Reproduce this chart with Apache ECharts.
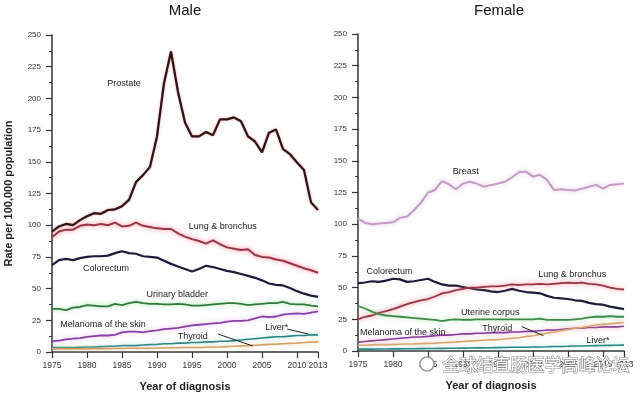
<!DOCTYPE html>
<html><head><meta charset="utf-8">
<script src="https://cdn.jsdelivr.net/npm/echarts@6/dist/echarts.min.js"></script>
<style>html,body{margin:0;padding:0;background:#fff}#c{width:640px;height:394px}</style>
</head><body><div id="c"></div>
<script>
// ---- categories / ticks ----
const years = [1975,1976,1977,1978,1979,1980,1981,1982,1983,1984,
  1985,1986,1987,1988,1989,1990,1991,1992,1993,1994,
  1995,1996,1997,1998,1999,2000,2001,2002,2003,2004,
  2005,2006,2007,2008,2009,2010,2011,2012,2013];
const xTicks = [1975,1980,1985,1990,1995,2000,2005,2010,2013];
const yTicks = [0,25,50,75,100,125,150,175,200,225,250];

// ---- Male ----
const maleProstate = [95,99,101,100,104,107,109.5,109,112,112.5,
  115,120,134,139.5,146,170,212,237,205,181,
  170,170,173.5,171,183.5,183.5,185,182,170,166,
  157.5,173,175.5,160,156,149.5,143.5,118,112];
const maleLung = [90.5,95,96.5,96.5,99.5,100.5,100,101,100,102,
  99,99.5,102,99.5,98.5,97.5,97,97,93.5,91,
  89,87.5,85.5,88,85,82.5,81.5,80.5,81,76.5,
  75,74.5,73,72,70,68,66,64.5,62.5];
const maleColorectum = [68.5,72.5,73.5,72.5,74,75,75.5,75.5,76,78,
  79.5,78,77.5,75.5,75,74.5,72,69.5,67.5,65.5,
  63.5,65.5,68,67,65.5,64,63,61.5,60,58.5,
  56.5,54,53,52.5,50.5,48,46,44.5,43.5];
const maleBladder = [34,34,33,35,35.5,37,36.5,36,36,38,
  37,38.5,39.5,38.5,38,38,37.5,37.5,38,37.5,
  36.5,36.5,37,37.5,38,38.5,38.5,38,37,37.5,
  38,38.5,38.5,39.5,38,37.5,37.5,36.5,36];
const maleMelanoma = [8.5,9,10,10.5,11,12,12.5,13,13,13.5,
  15.5,16,16,15.5,16.5,17,18,18.5,19,20,
  21,21.5,22,22.5,23,24,24.5,24.5,25,26.5,
  28,27.5,28,29.5,30,30.5,30,31,32];
const maleLiver = [3.5,3.5,3.5,3.5,3.8,4,4,4.2,4.5,4.5,
  5,5,5,5.5,5.8,6,6.5,6.5,7,7,
  7.5,7.5,8,8,8.5,8.5,9,9.5,10,10.5,
  11,11.5,12,12,12.5,13,13,13.5,13.5];
const maleThyroid = [2.5,2.5,2.5,2.5,2.5,2.5,2.6,2.7,2.7,2.8,
  2.8,2.9,3,3,3,3.2,3.2,3.3,3.4,3.5,
  3.5,3.6,3.8,3.9,4,4.2,4.5,4.8,5,5.3,
  5.6,6,6.2,6.5,6.8,7,7.5,7.8,8];

// ---- Female ----
const femaleBreast = [104.5,101,100,100.5,101,101.5,105,106,111,117,
  125,127,134,131.5,127.5,132,133.5,132,129.5,131,
  132,133.5,137,141,141.5,137.5,139,135,127,127.5,
  127,126.5,128,129.5,131,128,131,131.5,132];
const femaleColorectum = [53.5,54,55,54.5,55.5,57,56.5,54.5,55,56,
  57,54.5,52.5,51.5,51.5,50.5,49.5,48.5,48,47,
  46.5,47.5,49,47.5,46.5,46,45.5,43.5,42,41.5,
  41,40,39.5,38,37,36.5,35,34,33];
const femaleLung = [25,27,28,30,31.5,33,35,37,38.5,40,
  41,43,45.5,46.5,48,49,50,50,50.5,51,
  51,51.5,52.5,52,52.5,52.5,53,52.5,53,53.5,
  54,53.5,54,53,52.5,51.5,50,49,48.5];
const femaleUterine = [35.5,33.5,31,29,28,27.5,27,26.5,26,25.5,
  25,24.5,23.5,24.5,25,24.5,24.5,25,25,25,
  25,25,25,25,25,25,25.5,24.5,24.5,24.5,
  24.5,25,25.5,26.5,27,27,27.5,27,27];
const femaleMelanoma = [7,7.5,8,8.5,9,9.5,10,10.5,11,11,
  11.5,12,12.5,12.5,13,13.5,13.5,14,14,14.5,
  14.5,14.5,15,15,15.5,15.5,16,16.5,16.5,17,
  17.5,18,18,18.5,18.5,19,19,19,19.5];
const femaleThyroid = [4.5,4.5,4.8,5,5,5.2,5.3,5.5,5.6,5.8,
  6,6.2,6.5,6.8,7,7.5,8,8.2,8.5,8.8,
  9,9.5,10,10.5,11.5,12,13,14,15,16,
  17,18,18.5,19.5,20.5,21,21.5,22,22.5];
const femaleLiver = [1.5,1.5,1.5,1.6,1.6,1.7,1.7,1.8,1.8,1.9,
  2,2,2.1,2.2,2.2,2.3,2.4,2.5,2.5,2.6,
  2.7,2.8,2.9,3,3,3.1,3.2,3.3,3.5,3.6,
  3.7,3.9,4,4.1,4.2,4.3,4.4,4.5,4.6];

// ---- annotation labels (data coordinates) ----
const maleLabels = [
  ['Prostate',1985.3,212],['Lung & bronchus',1999.4,98.6],['Colorectum',1982.7,66.2],
  ['Urinary bladder',1992.9,45],['Melanoma of the skin',1982.3,21.3],
  ['Thyroid',1995.1,12.6],['Liver*',2007.1,19.7]];
const femaleLabels = [
  ['Breast',1990.4,141.2],['Colorectum',1979.5,62.5],['Lung & bronchus',2005.6,60.7],
  ['Uterine corpus',1993.9,30],['Melanoma of the skin',1981.4,14.4],
  ['Thyroid',1994.9,17.6],['Liver*',2009.3,8.1]];
const maleLeaders = [[[1998.7,14.2],[2003.7,4.7]],[[2008.6,18.1],[2011.6,14.2]]];
const femaleLeaders = [[[1998.4,19.2],[2001.5,12.1]]];

const pairs = arr => arr.map((v,i)=>[years[i],v]);
const FONT = 'Liberation Sans, Arial, sans-serif';

function mkSeries(name, arr, gi, color, width, glow, blur){
  const ls = {color: color, width: width};
  if (glow){ ls.shadowColor = glow; ls.shadowBlur = blur || 5; }
  return {name: name, type:'line', xAxisIndex: gi, yAxisIndex: gi, data: pairs(arr),
    showSymbol:false, symbol:'none', lineStyle: ls, silent:true, animation:false, z: 3};
}

function xAxisCfg(gi){
  return {type:'value', gridIndex: gi, min:1975, max:2013,
    name:'Year of diagnosis', nameLocation:'middle', nameGap:29,
    nameTextStyle:{fontFamily:FONT, fontWeight:'bold', fontSize:11, color:'#222'},
    axisLine:{show:true, lineStyle:{color:'#333', width:1.5}},
    axisTick:{show:true, inside:false, length:6, customValues:xTicks, lineStyle:{color:'#333', width:1.2}},
    axisLabel:{customValues:xTicks, showMinLabel:true, showMaxLabel:true, hideOverlap:false, margin:9,
      formatter: v => String(Math.round(v)),
      fontFamily:FONT, fontSize:8.5, color:'#333'},
    splitLine:{show:false}};
}
function yAxisCfg(gi, named){
  return {type:'value', gridIndex: gi, min:0, max:250, interval:25,
    name: named ? 'Rate per 100,000 population' : '', nameLocation:'middle', nameGap:38,
    nameTextStyle:{fontFamily:FONT, fontWeight:'bold', fontSize:11, color:'#222'},
    axisLine:{show:true, lineStyle:{color:'#333', width:1.5}},
    axisTick:{show:true, inside:false, length:6, lineStyle:{color:'#333', width:1.2}},
    minorTick:{show:true, splitNumber:2, length:3, lineStyle:{color:'#333', width:1}},
    axisLabel:{margin:11, fontFamily:FONT, fontSize:8, color:'#333'},
    splitLine:{show:false}, minorSplitLine:{show:false}};
}

const chart = echarts.init(document.getElementById('c'), null, {renderer:'canvas'});
const option = {
  backgroundColor:'#ffffff',
  animation:false,
  grid:[{left:52, top:35, width:266, height:317, containLabel:false, outerBoundsMode:'none'},
        {left:358, top:34, width:266, height:317, containLabel:false, outerBoundsMode:'none'}],
  xAxis:[xAxisCfg(0), xAxisCfg(1)],
  yAxis:[yAxisCfg(0,true), yAxisCfg(1,false)],
  series:[
    mkSeries('Prostate', maleProstate, 0, '#2a1516', 2.2, 'rgba(230,30,30,0.5)', 2),
    mkSeries('Lung & bronchus', maleLung, 0, '#9a3446', 2, 'rgba(245,90,110,0.8)', 5),
    mkSeries('Colorectum', maleColorectum, 0, '#1b1b3a', 2.2, null),
    mkSeries('Urinary bladder', maleBladder, 0, '#2f7a3a', 1.8, 'rgba(110,210,110,0.7)', 5),
    mkSeries('Melanoma of the skin', maleMelanoma, 0, '#8a3fa6', 1.8, 'rgba(200,130,230,0.6)', 5),
    mkSeries('Liver*', maleLiver, 0, '#2a8686', 1.6, 'rgba(120,210,210,0.6)', 5),
    mkSeries('Thyroid', maleThyroid, 0, '#d6a064', 1.6, 'rgba(240,200,140,0.6)', 5),
    mkSeries('Breast', femaleBreast, 1, '#c29cc4', 2, 'rgba(220,180,225,0.8)', 5),
    mkSeries('Colorectum', femaleColorectum, 1, '#1b1b3a', 2.2, null),
    mkSeries('Lung & bronchus', femaleLung, 1, '#9a3446', 1.8, 'rgba(245,90,110,0.8)', 5),
    mkSeries('Uterine corpus', femaleUterine, 1, '#3a8a48', 1.8, 'rgba(120,210,120,0.6)', 5),
    mkSeries('Melanoma of the skin', femaleMelanoma, 1, '#8a3c9c', 1.6, 'rgba(220,120,200,0.6)', 5),
    mkSeries('Thyroid', femaleThyroid, 1, '#dca46c', 1.6, 'rgba(245,200,150,0.6)', 5),
    mkSeries('Liver*', femaleLiver, 1, '#2a8686', 1.6, 'rgba(120,210,210,0.6)', 5)
  ]
};
chart.setOption(option);

// annotations positioned through the axes' own scales
const g = [];
function addLabels(list, gi){
  list.forEach(([t,x,y])=>{
    const p = chart.convertToPixel({gridIndex:gi},[x,y]);
    g.push({type:'text', x:p[0], y:p[1], z:10, silent:true,
      style:{text:t, fill:'#222', font:'9px '+FONT, textAlign:'center', textVerticalAlign:'middle'}});
  });
}
function addLeaders(list, gi){
  list.forEach(([a,b])=>{
    const p1 = chart.convertToPixel({gridIndex:gi},a), p2 = chart.convertToPixel({gridIndex:gi},b);
    g.push({type:'line', z:10, silent:true, shape:{x1:p1[0],y1:p1[1],x2:p2[0],y2:p2[1]},
      style:{stroke:'#222', lineWidth:1}});
  });
}
addLabels(maleLabels,0); addLabels(femaleLabels,1);
addLeaders(maleLeaders,0); addLeaders(femaleLeaders,1);
g.push({type:'text', x:185, y:11, style:{text:'Male', fill:'#111', font:'15px '+FONT, textAlign:'center', textVerticalAlign:'middle'}});
g.push({type:'text', x:499, y:11, style:{text:'Female', fill:'#111', font:'15px '+FONT, textAlign:'center', textVerticalAlign:'middle'}});
// watermark
g.push({type:'circle', z:20, shape:{cx:427, cy:364, r:7}, style:{fill:'#fff', stroke:'#9a9a9a', lineWidth:1.5}});
g.push({type:'text', z:20, x:536, y:365, style:{text:'全球结直肠医学高峰论坛', fill:'#ffffff', stroke:'#8a8a8a', lineWidth:1.2,
  font:'17px "Noto Sans CJK SC", sans-serif', textAlign:'center', textVerticalAlign:'middle'}});
chart.setOption({graphic: g});
</script>
</body></html>
